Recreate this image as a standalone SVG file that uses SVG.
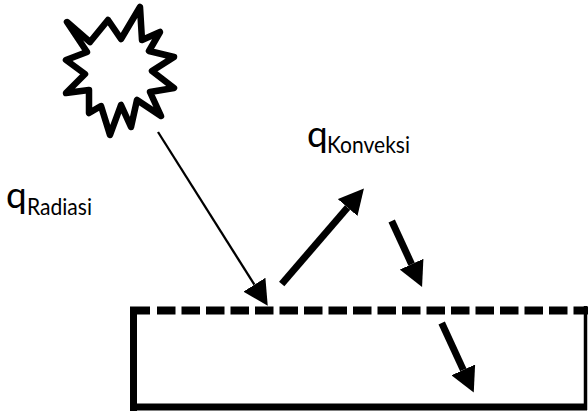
<svg xmlns="http://www.w3.org/2000/svg" width="588" height="412" viewBox="0 0 588 412">
<style>
.bg{fill:#ffffff}
.star{fill:#ffffff;stroke:#000;stroke-width:6.5;stroke-linejoin:round}
.q{font-family:Lato,"Open Sans","Liberation Sans",sans-serif;font-size:37px;fill:#000}
.sub{font-family:Lato,"Open Sans","Liberation Sans",sans-serif;font-size:24px;fill:#000}
.edge{stroke:#000;fill:none}
.thin{stroke:#000;stroke-width:2.3;fill:none}
.thick{stroke:#000;stroke-width:7;fill:none}
</style>
<defs>
<marker id="head" markerUnits="userSpaceOnUse" markerWidth="25" markerHeight="26" viewBox="0 0 25 26" refX="0" refY="13" orient="auto">
<path d="M0,0 L25,13 L0,26 Z" fill="#000"/>
</marker>
</defs>
<rect class="bg" x="0" y="0" width="588" height="412"/>
<g id="sun">
<path class="star" d="M67,22 L90,42 L108,20 L121,39 L140,7 L142,40 L160,32 L149,51 L174,57 L152,71 L174,88 L150,92 L161,116 L137,100 L131,127 L121,105 L110,135 L101,106 L89,113 L89,90 L66,93 L85,74 L66,60 L87,52 Z"/>
</g>
<g id="label-radiasi">
<text class="q" x="6" y="208">q</text>
<text class="sub" x="27" y="215" textLength="65" lengthAdjust="spacingAndGlyphs">Radiasi</text>
</g>
<g id="label-konveksi">
<text class="q" x="307" y="147">q</text>
<text class="sub" x="327" y="153" textLength="83" lengthAdjust="spacingAndGlyphs">Konveksi</text>
</g>
<g id="surface">
<line class="edge" x1="133.5" y1="307" x2="133.5" y2="411" stroke-width="7"/>
<line class="edge" x1="130" y1="407" x2="587" y2="407" stroke-width="7"/>
<line class="edge" x1="585.5" y1="306" x2="585.5" y2="410" stroke-width="3.5"/>
<line class="edge" x1="130" y1="310.5" x2="150" y2="310.5" stroke-width="8"/>
<line class="edge" x1="157" y1="310.5" x2="588" y2="310.5" stroke-width="8" stroke-dasharray="18.5 6"/>
</g>
<g id="connectors">
<line class="thin" x1="158" y1="132" x2="254.4" y2="284.7" marker-end="url(#head)"/>
<line class="thick" x1="281.7" y1="284" x2="347.6" y2="207.5" marker-end="url(#head)"/>
<line class="thick" x1="391.7" y1="221" x2="411.6" y2="264.2" marker-end="url(#head)"/>
<line class="thick" x1="441.7" y1="323" x2="463.3" y2="369.9" marker-end="url(#head)"/>
</g>
</svg>
